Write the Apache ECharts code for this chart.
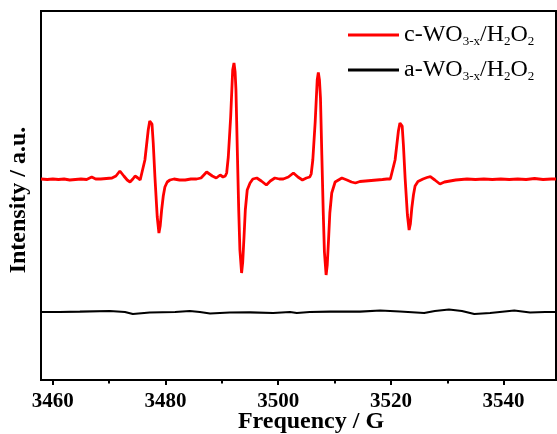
<!DOCTYPE html>
<html>
<head>
<meta charset="utf-8">
<script src="https://cdn.jsdelivr.net/npm/echarts@6/dist/echarts.min.js"></script>
<style>
  html, body { margin: 0; padding: 0; background: #fff; }
  #chart { width: 557px; height: 434px; }
</style>
</head>
<body>
<div id="chart"></div>
<script>
// EPR spectra, magnetic field (G) vs. intensity (a.u., offset traces)
const cField = [
  3457.9, 3459.0, 3460.0, 3461.0, 3462.0, 3463.0, 3464.0, 3465.0, 3466.0, 3466.9,
  3467.6, 3468.5, 3469.5, 3470.5, 3471.2, 3471.9, 3472.6, 3473.2, 3473.7, 3474.2,
  3474.6, 3475.1, 3475.5, 3475.75, 3476.34, 3476.93, 3477.2, 3477.41, 3477.6, 3477.82,
  3478.12, 3478.53, 3478.83, 3479.05, 3479.31, 3479.6, 3479.89, 3480.3, 3480.78, 3481.5,
  3482.5, 3483.5, 3484.5, 3485.5, 3486.3, 3487.3, 3488.3, 3489.0, 3489.7, 3490.2,
  3490.6, 3490.85, 3491.14, 3491.56, 3491.92, 3492.15, 3492.35, 3492.5, 3492.74, 3492.99,
  3493.2, 3493.5, 3493.7, 3493.93, 3494.16, 3494.5, 3495.0, 3495.5, 3496.2, 3497.0,
  3497.9, 3498.6, 3499.4, 3500.2, 3500.9, 3501.8, 3502.7, 3503.5, 3504.3, 3505.0,
  3505.6, 3505.85, 3506.14, 3506.56, 3506.92, 3507.12, 3507.32, 3507.5, 3507.74, 3507.99,
  3508.2, 3508.5, 3508.7, 3508.93, 3509.16, 3509.5, 3510.1, 3510.7, 3511.3, 3512.2,
  3513.0, 3513.7, 3514.5, 3515.5, 3516.5, 3517.5, 3518.5, 3519.3, 3519.9, 3520.15,
  3520.74, 3521.33, 3521.6, 3521.81, 3522.0, 3522.22, 3522.52, 3522.93, 3523.23, 3523.45,
  3523.71, 3524.0, 3524.29, 3524.8, 3525.7, 3526.4, 3527.0, 3527.8, 3528.7, 3529.5,
  3530.5, 3531.5, 3532.5, 3533.5, 3535.0, 3536.5, 3538.0, 3539.5, 3541.0, 3542.5,
  3544.0, 3545.5, 3547.0, 3548.5, 3549.3
];
const cSignal = [
  201, 200.5, 201, 200.5, 201, 200, 200.5, 201, 200.5, 203,
  201, 201, 201.5, 202, 204, 209, 204, 200, 198, 201,
  204, 202, 200, 202, 220, 250, 259, 261, 256, 237,
  203, 163, 147, 154, 170, 184, 193, 198, 200, 201,
  200, 200, 201, 201, 202, 208, 204, 202, 205, 203,
  204, 207, 223, 263, 310, 317, 308, 290, 230, 170,
  130, 107, 118, 143, 170, 190, 197, 201, 202, 199,
  195, 199, 202, 201, 201, 203, 207, 203, 200, 202,
  203, 206, 220, 258, 300, 307.5, 300, 282, 225, 168,
  128, 105, 115, 140, 167, 187, 198, 200, 202, 200,
  198, 197, 198.5, 199, 199.5, 200, 200.5, 201, 201, 202,
  220, 249, 257, 259, 254, 235, 202, 165, 150, 156,
  172, 185, 194, 198.5, 201, 202.5, 203.3, 200, 196, 198,
  199, 200, 200.5, 201, 200.5, 201, 200.5, 201, 200.5, 201,
  200.5, 201.5, 200.5, 201, 201
];

const aField = [
  3457.9, 3461.2, 3464.8, 3470.1, 3472.8, 3474.2, 3477.2, 3481.7, 3484.3, 3486.1,
  3487.9, 3491.4, 3495.0, 3499.1, 3502.1, 3503.3, 3505.6, 3509.2, 3514.5, 3518.1,
  3521.6, 3525.9, 3527.8, 3530.3, 3532.6, 3534.8, 3537.6, 3541.9, 3544.7, 3547.4,
  3549.3
];
const aSignal = [
  68, 68, 68.3, 69, 68, 66, 67.5, 68, 69, 68,
  66.5, 67.5, 67.7, 67, 68, 67, 68, 68.3, 68.3, 69.5,
  68.5, 67, 69, 70.5, 69, 66, 67, 69.5, 67.5, 68,
  68
];

const majorTicks = [3460, 3480, 3500, 3520, 3540];
const minorTicks = [3470, 3490, 3510, 3530];
const seriesNames = ['c-WO3-x/H2O2', 'a-WO3-x/H2O2'];
const legendRich = {
  'c-WO3-x/H2O2': '{m|c-WO}{s|3-x}{m|/H}{s|2}{m|O}{s|2}',
  'a-WO3-x/H2O2': '{m|a-WO}{s|3-x}{m|/H}{s|2}{m|O}{s|2}'
};

const serif = '"Liberation Serif", "Times New Roman", serif';
const zip = (xs, ys) => xs.map((x, i) => [x, ys[i]]);

const chart = echarts.init(document.getElementById('chart'), null, { renderer: 'canvas' });
chart.setOption({
  backgroundColor: '#fff',
  animation: false,
  grid: {
    left: 41, right: 1, top: 11, bottom: 54,
    show: true, borderColor: '#000', borderWidth: 2, backgroundColor: 'transparent'
  },
  legend: {
    show: true,
    orient: 'vertical',
    left: 348, top: 23, padding: 0,
    itemWidth: 51, itemHeight: 3, itemGap: 10,
    icon: 'rect',
    data: seriesNames,
    formatter: function (name) { return legendRich[name]; },
    textStyle: {
      color: '#000',
      rich: {
        m: { fontFamily: serif, fontSize: 24, color: '#000', lineHeight: 26, verticalAlign: 'middle' },
        s: { fontFamily: serif, fontSize: 13, color: '#000', lineHeight: 13, verticalAlign: 'bottom' }
      }
    }
  },
  xAxis: [
    {
      type: 'value', min: 3457.9, max: 3549.3, position: 'bottom',
      axisLine: { show: true, onZero: false, lineStyle: { color: '#000', width: 2 } },
      axisTick: { show: true, inside: false, length: 5, customValues: majorTicks, lineStyle: { color: '#000', width: 2 } },
      axisLabel: {
        show: true, customValues: majorTicks, margin: 11,
        formatter: v => String(v),
        fontFamily: serif, fontSize: 21, fontWeight: 'bold', color: '#000'
      },
      splitLine: { show: false }
    },
    {
      type: 'value', min: 3457.9, max: 3549.3, position: 'bottom',
      axisLine: { show: false, onZero: false },
      axisTick: { show: true, inside: false, length: 3.5, customValues: minorTicks, lineStyle: { color: '#000', width: 2 } },
      axisLabel: { show: false },
      splitLine: { show: false }
    }
  ],
  yAxis: {
    type: 'value', min: 0, max: 369,
    axisLine: { show: true, lineStyle: { color: '#000', width: 2 } },
    axisTick: { show: false },
    axisLabel: { show: false },
    splitLine: { show: false }
  },
  graphic: [
    {
      type: 'text', x: 311, y: 422,
      style: {
        text: 'Frequency / G', fill: '#000',
        font: 'bold 24px ' + serif, textAlign: 'center', textVerticalAlign: 'middle'
      }
    },
    {
      type: 'text', x: 19, y: 200, rotation: Math.PI / 2,
      style: {
        text: 'Intensity / a.u.', fill: '#000',
        font: 'bold 24px ' + serif, textAlign: 'center', textVerticalAlign: 'middle'
      }
    }
  ],
  series: [
    {
      name: seriesNames[0], type: 'line', xAxisIndex: 0,
      data: zip(cField, cSignal),
      showSymbol: false, symbol: 'none',
      lineStyle: { color: '#ff0000', width: 2.8 },
      itemStyle: { color: '#ff0000' }
    },
    {
      name: seriesNames[1], type: 'line', xAxisIndex: 0,
      data: zip(aField, aSignal),
      showSymbol: false, symbol: 'none',
      lineStyle: { color: '#000', width: 2.2 },
      itemStyle: { color: '#000' }
    }
  ]
});
</script>
</body>
</html>
